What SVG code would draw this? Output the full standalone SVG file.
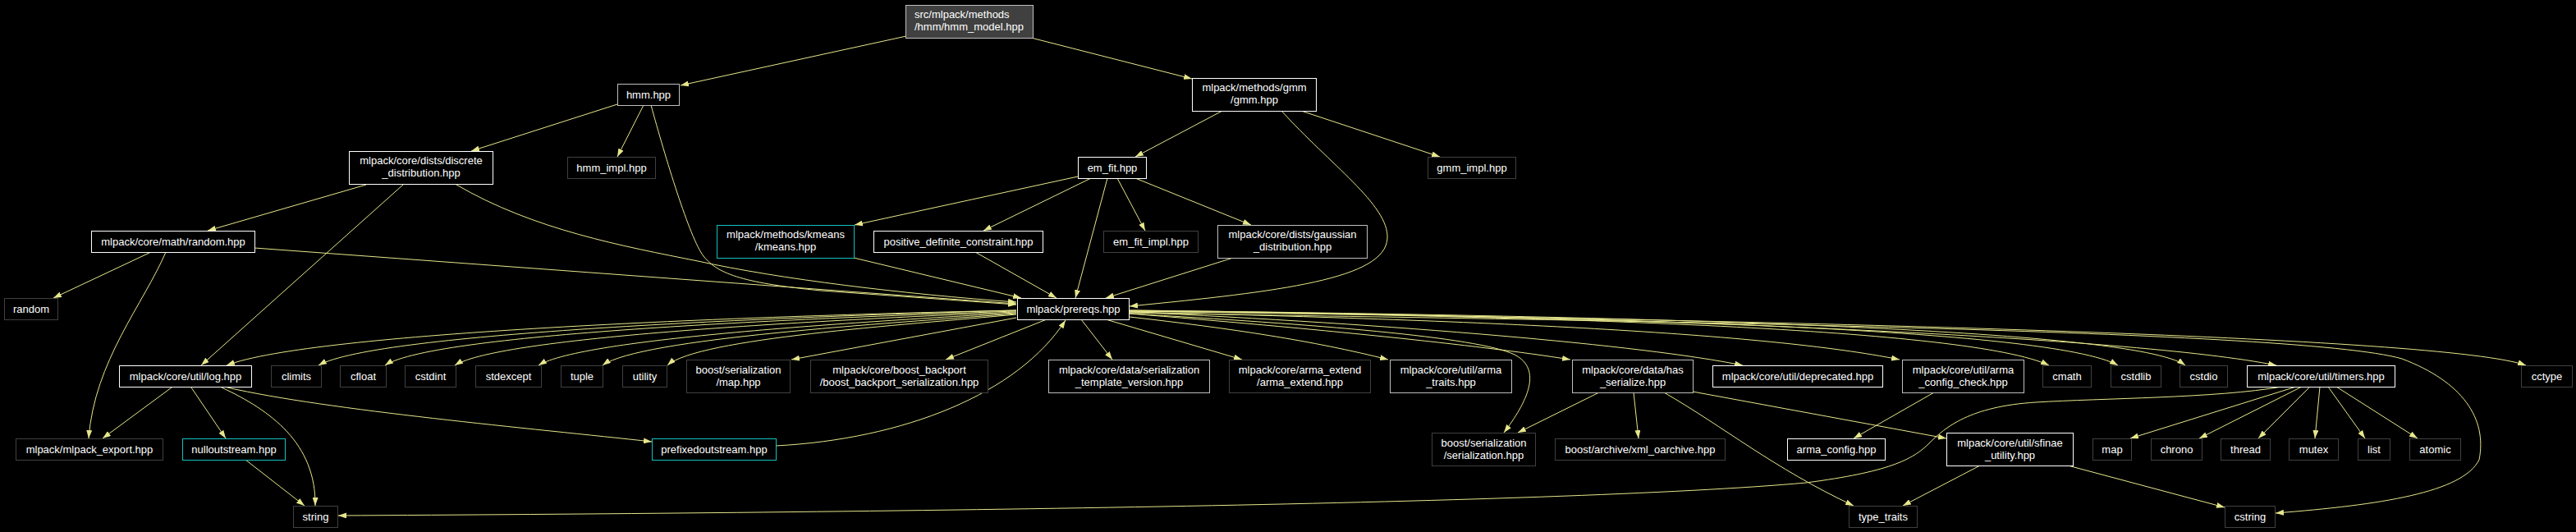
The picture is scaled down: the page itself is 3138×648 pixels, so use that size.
<svg xmlns="http://www.w3.org/2000/svg" width="3138" height="648" viewBox="0 0 3138 648">
<style>
.bg{fill:#000}
rect.n{fill:#000;stroke-width:1}
.w{stroke:#ffffff}
.g{stroke:#bfbfbf}
.d{stroke:#404040}
.c{stroke:#14c0c0}
.r{fill:#404040 !important;stroke:#bfbfbf}
text{font-family:"Liberation Sans",Arial,Helvetica,sans-serif;font-size:13px;fill:#ffffff;text-anchor:middle}
text.l{text-anchor:start}
#edges path{fill:none;stroke:#e6e68c;stroke-width:1;marker-end:url(#a)}
</style>
<defs>
<marker id="a" viewBox="0 0 10 7" refX="10" refY="3.5" markerWidth="10" markerHeight="7" markerUnits="userSpaceOnUse" orient="auto">
<path d="M0,0 L10,3.5 L0,7 z" fill="#e6e68c"/>
</marker>
</defs>
<rect class="bg" x="0" y="0" width="3138" height="648"/>
<g id="edges">
<path d="M1104,44 L829,104"/>
<path d="M1256,46 L1452,96"/>
<path d="M752,127 L574,184"/>
<path d="M784,128 L752,191"/>
<path d="M793,128 C810,190 840,290 857,312 C875,335 910,345 1000,354 L1238,371"/>
<path d="M1489,135 L1383,191"/>
<path d="M1585,135 L1754,191"/>
<path d="M1561,135 C1620,200 1692,250 1690,290 C1688,340 1560,355 1376,373"/>
<path d="M446,225 L253,281"/>
<path d="M491,225 L245,445"/>
<path d="M556,225 C650,280 760,300 850,318 C950,340 1100,358 1238,368"/>
<path d="M1313,215 L1041,274"/>
<path d="M1329,217 L1198,281"/>
<path d="M1361,217 L1395,281"/>
<path d="M1383,217 L1524,274"/>
<path d="M1349,217 L1310,363"/>
<path d="M1040,314 L1244,363"/>
<path d="M1188,307 L1287,363"/>
<path d="M1502,314 L1347,363"/>
<path d="M184,307 L65,363"/>
<path d="M202,307 C175,370 115,440 108,534"/>
<path d="M310,302 L1238,370"/>
<path d="M1238,378 C900,385 380,405 276,445"/>
<path d="M1238,378 C950,386 460,405 388,445"/>
<path d="M1238,379 C1000,387 530,405 469,445"/>
<path d="M1238,380 C1000,390 610,410 554,445"/>
<path d="M1238,381 C1050,392 710,412 656,445"/>
<path d="M1238,382 C1080,394 780,412 734,445"/>
<path d="M1238,383 C1100,396 850,412 813,445"/>
<path d="M1238,387 L964,438"/>
<path d="M1275,389 L1152,438"/>
<path d="M1317,389 L1355,438"/>
<path d="M1347,389 L1513,438"/>
<path d="M1376,386 C1500,400 1600,415 1691,438"/>
<path d="M1376,382 C1600,395 1800,410 1845,432 C1880,450 1860,490 1832,527"/>
<path d="M1376,382 C1600,400 1800,420 1913,438"/>
<path d="M1376,380 C1700,395 2000,420 2123,445"/>
<path d="M1376,380 C1800,390 2150,405 2314,438"/>
<path d="M1376,379 C1900,385 2400,400 2496,445"/>
<path d="M1376,379 C1950,385 2500,400 2580,445"/>
<path d="M1376,378 C2000,385 2600,400 2662,445"/>
<path d="M1376,378 C2000,385 2600,410 2773,445"/>
<path d="M1376,379 C2200,390 2980,410 3077,445"/>
<path d="M1376,381 C1900,390 2800,400 2926,437 C3000,465 3030,510 3020,560 C3000,600 2900,615 2772,625"/>
<path d="M209,472 L125,534"/>
<path d="M233,472 L275,534"/>
<path d="M270,472 C330,500 385,540 384,616"/>
<path d="M277,472 C400,500 650,522 794,538"/>
<path d="M299,560 L371,616"/>
<path d="M945,543 C1100,535 1240,480 1298,390"/>
<path d="M1948,478 L1849,527"/>
<path d="M1990,478 L1996,534"/>
<path d="M2027,478 C2100,520 2160,570 2258,616"/>
<path d="M2062,477 L2371,534"/>
<path d="M2356,478 L2258,534"/>
<path d="M2412,567 L2318,616"/>
<path d="M2519,567 L2710,618"/>
<path d="M2780,471 C2700,485 2560,485 2480,490 C2400,495 2370,520 2350,540 C2330,560 2300,575 2200,588 C1900,615 1000,625 412,628"/>
<path d="M2797,471 L2595,534"/>
<path d="M2804,471 L2679,534"/>
<path d="M2814,471 L2751,534"/>
<path d="M2826,471 L2820,534"/>
<path d="M2836,471 L2881,534"/>
<path d="M2846,471 L2945,534"/>
</g>
<g id="root"><rect class="n r" x="1103.5" y="6.5" width="155" height="40"/><text class="l" x="1114" y="22">src/mlpack/methods</text><text class="l" x="1114" y="37">/hmm/hmm_model.hpp</text></g>
<g id="hmm"><rect class="n g" x="752.5" y="102.5" width="75" height="26"/><text x="790" y="120">hmm.hpp</text></g>
<g id="gmm"><rect class="n w" x="1452.5" y="95.5" width="151" height="40"/><text x="1528" y="111">mlpack/methods/gmm</text><text x="1528" y="126">/gmm.hpp</text></g>
<g id="discrete"><rect class="n w" x="425.5" y="184.5" width="175" height="40"/><text x="513" y="200">mlpack/core/dists/discrete</text><text x="513" y="215">_distribution.hpp</text></g>
<g id="hmm_impl"><rect class="n d" x="691.5" y="191.5" width="107" height="26"/><text x="745" y="209">hmm_impl.hpp</text></g>
<g id="em_fit"><rect class="n w" x="1313.5" y="191.5" width="83" height="26"/><text x="1355" y="209">em_fit.hpp</text></g>
<g id="gmm_impl"><rect class="n d" x="1739.5" y="191.5" width="107" height="26"/><text x="1793" y="209">gmm_impl.hpp</text></g>
<g id="random_hpp"><rect class="n w" x="111.5" y="281.5" width="199" height="26"/><text x="211" y="299">mlpack/core/math/random.hpp</text></g>
<g id="kmeans"><rect class="n c" x="873.5" y="274.5" width="167" height="40"/><text x="957" y="290">mlpack/methods/kmeans</text><text x="957" y="305">/kmeans.hpp</text></g>
<g id="posdef"><rect class="n w" x="1064.5" y="281.5" width="206" height="26"/><text x="1167.5" y="299">positive_definite_constraint.hpp</text></g>
<g id="em_fit_impl"><rect class="n d" x="1344.5" y="281.5" width="115" height="26"/><text x="1402" y="299">em_fit_impl.hpp</text></g>
<g id="gaussian"><rect class="n g" x="1483.5" y="274.5" width="182" height="40"/><text x="1574.5" y="290">mlpack/core/dists/gaussian</text><text x="1574.5" y="305">_distribution.hpp</text></g>
<g id="std_random"><rect class="n d" x="5.5" y="363.5" width="65" height="26"/><text x="38" y="381">random</text></g>
<g id="prereqs"><rect class="n w" x="1239.5" y="363.5" width="136" height="26"/><text x="1307.5" y="381">mlpack/prereqs.hpp</text></g>
<g id="log"><rect class="n w" x="145.5" y="445.5" width="161" height="26"/><text x="226" y="463">mlpack/core/util/log.hpp</text></g>
<g id="climits"><rect class="n d" x="330.5" y="445.5" width="61" height="26"/><text x="361" y="463">climits</text></g>
<g id="cfloat"><rect class="n d" x="414.5" y="445.5" width="56" height="26"/><text x="442.5" y="463">cfloat</text></g>
<g id="cstdint"><rect class="n d" x="493.5" y="445.5" width="62" height="26"/><text x="524.5" y="463">cstdint</text></g>
<g id="stdexcept"><rect class="n d" x="579.5" y="445.5" width="80" height="26"/><text x="619.5" y="463">stdexcept</text></g>
<g id="tuple"><rect class="n d" x="683.5" y="445.5" width="51" height="26"/><text x="709" y="463">tuple</text></g>
<g id="utility"><rect class="n d" x="758.5" y="445.5" width="54" height="26"/><text x="785.5" y="463">utility</text></g>
<g id="bmap"><rect class="n d" x="836.5" y="438.5" width="126" height="40"/><text x="899.5" y="455">boost/serialization</text><text x="899.5" y="470">/map.hpp</text></g>
<g id="backport"><rect class="n d" x="987.5" y="438.5" width="216" height="40"/><text x="1095.5" y="455">mlpack/core/boost_backport</text><text x="1095.5" y="470">/boost_backport_serialization.hpp</text></g>
<g id="tmplver"><rect class="n g" x="1277.5" y="438.5" width="196" height="40"/><text x="1375.5" y="455">mlpack/core/data/serialization</text><text x="1375.5" y="470">_template_version.hpp</text></g>
<g id="armaext"><rect class="n d" x="1497.5" y="438.5" width="172" height="40"/><text x="1583.5" y="455">mlpack/core/arma_extend</text><text x="1583.5" y="470">/arma_extend.hpp</text></g>
<g id="armatraits"><rect class="n g" x="1693.5" y="438.5" width="148" height="40"/><text x="1767.5" y="455">mlpack/core/util/arma</text><text x="1767.5" y="470">_traits.hpp</text></g>
<g id="hasser"><rect class="n g" x="1915.5" y="438.5" width="147" height="40"/><text x="1989" y="455">mlpack/core/data/has</text><text x="1989" y="470">_serialize.hpp</text></g>
<g id="deprecated"><rect class="n w" x="2086.5" y="445.5" width="207" height="26"/><text x="2190" y="463">mlpack/core/util/deprecated.hpp</text></g>
<g id="acc"><rect class="n g" x="2317.5" y="438.5" width="148" height="40"/><text x="2391.5" y="455">mlpack/core/util/arma</text><text x="2391.5" y="470">_config_check.hpp</text></g>
<g id="cmath"><rect class="n d" x="2488.5" y="445.5" width="59" height="26"/><text x="2518" y="463">cmath</text></g>
<g id="cstdlib"><rect class="n d" x="2571.5" y="445.5" width="61" height="26"/><text x="2602" y="463">cstdlib</text></g>
<g id="cstdio"><rect class="n d" x="2655.5" y="445.5" width="58" height="26"/><text x="2684.5" y="463">cstdio</text></g>
<g id="timers"><rect class="n w" x="2737.5" y="445.5" width="180" height="26"/><text x="2827.5" y="463">mlpack/core/util/timers.hpp</text></g>
<g id="cctype"><rect class="n d" x="3071.5" y="445.5" width="62" height="26"/><text x="3102.5" y="463">cctype</text></g>
<g id="export"><rect class="n d" x="19.5" y="534.5" width="179" height="26"/><text x="109" y="552">mlpack/mlpack_export.hpp</text></g>
<g id="nullout"><rect class="n c" x="222.5" y="534.5" width="125" height="26"/><text x="285" y="552">nulloutstream.hpp</text></g>
<g id="prefixed"><rect class="n c" x="794.5" y="534.5" width="151" height="26"/><text x="870" y="552">prefixedoutstream.hpp</text></g>
<g id="bser"><rect class="n d" x="1744.5" y="527.5" width="126" height="40"/><text x="1807.5" y="544">boost/serialization</text><text x="1807.5" y="559">/serialization.hpp</text></g>
<g id="xml"><rect class="n d" x="1894.5" y="534.5" width="207" height="26"/><text x="1998" y="552">boost/archive/xml_oarchive.hpp</text></g>
<g id="armacfg"><rect class="n w" x="2177.5" y="534.5" width="119" height="26"/><text x="2237" y="552">arma_config.hpp</text></g>
<g id="sfinae"><rect class="n w" x="2371.5" y="527.5" width="154" height="40"/><text x="2448.5" y="544">mlpack/core/util/sfinae</text><text x="2448.5" y="559">_utility.hpp</text></g>
<g id="std_map"><rect class="n d" x="2549.5" y="534.5" width="47" height="26"/><text x="2573" y="552">map</text></g>
<g id="chrono"><rect class="n d" x="2620.5" y="534.5" width="62" height="26"/><text x="2651.5" y="552">chrono</text></g>
<g id="thread"><rect class="n d" x="2705.5" y="534.5" width="60" height="26"/><text x="2735.5" y="552">thread</text></g>
<g id="mutex"><rect class="n d" x="2788.5" y="534.5" width="60" height="26"/><text x="2818.5" y="552">mutex</text></g>
<g id="list"><rect class="n d" x="2872.5" y="534.5" width="39" height="26"/><text x="2892" y="552">list</text></g>
<g id="atomic"><rect class="n d" x="2935.5" y="534.5" width="62" height="26"/><text x="2966.5" y="552">atomic</text></g>
<g id="string"><rect class="n d" x="357.5" y="616.5" width="54" height="26"/><text x="384.5" y="634">string</text></g>
<g id="typetraits"><rect class="n d" x="2252.5" y="616.5" width="83" height="26"/><text x="2294" y="634">type_traits</text></g>
<g id="cstring"><rect class="n d" x="2710.5" y="616.5" width="61" height="26"/><text x="2741" y="634">cstring</text></g>
</svg>
